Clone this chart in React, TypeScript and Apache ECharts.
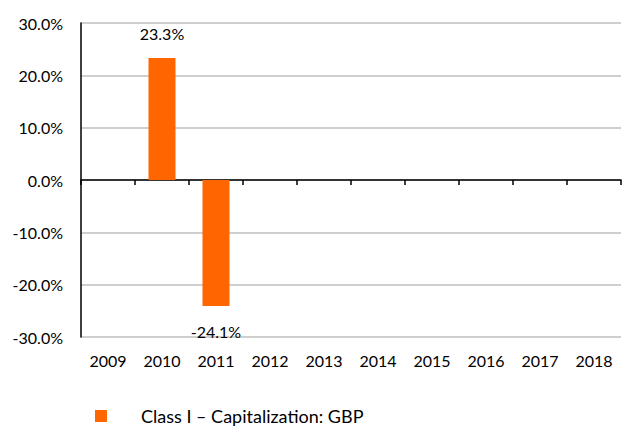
import React, { useEffect, useRef } from "react";
import * as echarts from "echarts";

const years = ["2009", "2010", "2011", "2012", "2013", "2014", "2015", "2016", "2017", "2018"];
const returns: (number | null)[] = [null, 0.233, -0.241, null, null, null, null, null, null, null];
const seriesName = "Class I \u2013 Capitalization: GBP";
const yTicks = { min: -0.3, max: 0.3, interval: 0.1 };

const FONT = "Lato, 'Open Sans', sans-serif";

export default function App() {
  const ref = useRef<HTMLDivElement>(null);
  useEffect(() => {
    if (!ref.current) return;
    const chart = echarts.init(ref.current, undefined, { renderer: "svg" });
    const pct = (v: number) => (v * 100).toFixed(1) + "%";
    chart.setOption({
      animation: false,
      textStyle: { fontFamily: FONT },
      grid: { left: 81, right: 1, top: 23, bottom: 89, containLabel: false },
      legend: {
        left: 90,
        top: 402,
        itemWidth: 12,
        itemHeight: 12,
        icon: "rect",
        data: [seriesName],
        textStyle: { fontFamily: FONT, fontSize: 18, color: "#000", padding: [0, 0, 0, 29] },
      },
      xAxis: [
        {
          type: "category",
          data: years,
          position: "bottom",
          axisLine: { show: true, onZero: true, lineStyle: { color: "#000", width: 1.5 } },
          axisTick: { show: true, length: 5, lineStyle: { color: "#000", width: 1.5 } },
          axisLabel: { show: false },
          splitLine: { show: false },
        },
        {
          type: "category",
          data: years,
          position: "bottom",
          axisLine: { show: false, onZero: false },
          axisTick: { show: false },
          axisLabel: { show: true, margin: 15, fontSize: 16, color: "#000", fontFamily: FONT },
          splitLine: { show: false },
        },
      ],
      yAxis: {
        type: "value",
        min: yTicks.min,
        max: yTicks.max,
        interval: yTicks.interval,
        axisLine: { show: true, lineStyle: { color: "#000", width: 1.5 } },
        axisTick: { show: false },
        axisLabel: { margin: 18, fontSize: 16, color: "#000", fontFamily: FONT, formatter: pct },
        splitLine: { show: true, lineStyle: { color: "#BFBFBF", width: 1.5 } },
      },
      series: [
        {
          name: seriesName,
          type: "bar",
          xAxisIndex: 0,
          barWidth: "50%",
          itemStyle: { color: "#FF6600" },
          label: {
            show: true,
            fontSize: 16,
            color: "#000",
            fontFamily: FONT,
            distance: 17,
            formatter: (p: any) => (p.value == null ? "" : pct(p.value)),
          },
          data: returns.map((v) =>
            v == null
              ? null
              : { value: v, label: { position: v >= 0 ? "top" : "bottom" } }
          ),
        },
      ],
    });
    return () => chart.dispose();
  }, []);
  return (
    <div
      ref={ref}
      style={{ position: "fixed", left: 0, top: 0, width: 622, height: 426, background: "#fff" }}
    />
  );
}
